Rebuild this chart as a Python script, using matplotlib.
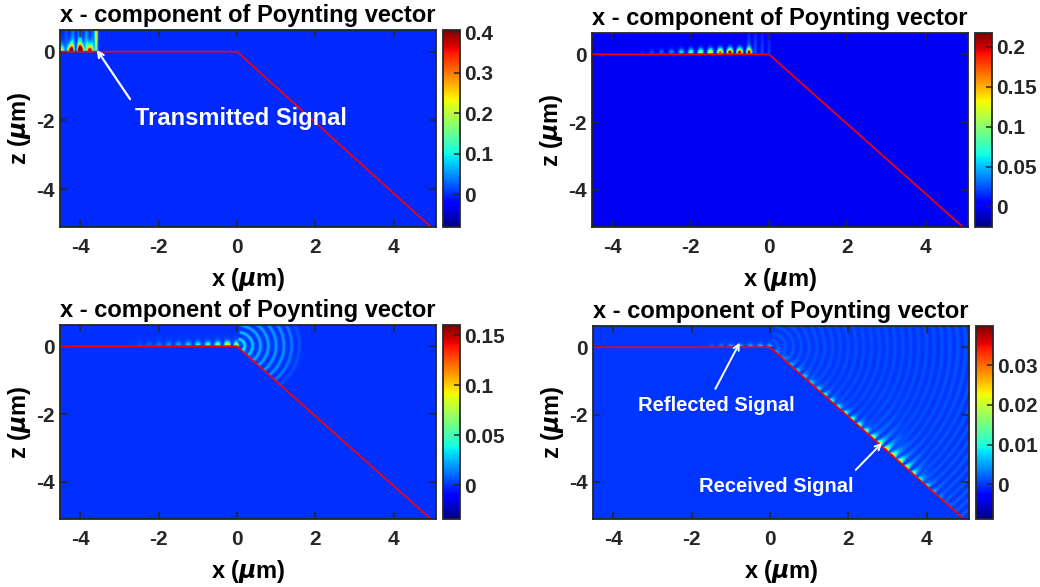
import numpy as np
import matplotlib.pyplot as plt

plt.rcParams['font.family'] = ['Liberation Sans', 'DejaVu Sans']
plt.rcParams['font.weight'] = 'bold'
plt.rcParams['axes.labelweight'] = 'bold'
plt.rcParams['axes.titleweight'] = 'bold'
plt.rcParams['axes.unicode_minus'] = False

# axes limits (um)
x_lim = [-4.52, 5.08]
z_lim = [-5.1, 0.63]

# waveguide profile (red line)
profile_x = [-4.52, 0.0, 5.0]
profile_z = [0.0, 0.0, -5.15]
slope = 1.03

# colour limits and colorbar ticks for the four snapshots
clims = [(-0.08, 0.405), (-0.025, 0.217), (-0.034, 0.16), (-0.0087, 0.0398)]
cticks = [[0, 0.1, 0.2, 0.3, 0.4],
          [0, 0.05, 0.1, 0.15, 0.2],
          [0, 0.05, 0.1, 0.15],
          [0, 0.01, 0.02, 0.03]]

# surface wave on the flat part: envelope anchors (x, amplitude)
flat_x = [[-4.6, -4.35, -4.15, -3.9, -3.7, -3.6],
          [-3.6, -2.5, -1.5, -1.0, -0.5, -0.35],
          [-2.8, -1.5, -0.6, -0.15, -0.02, 0.05],
          [-1.8, -1.2, -0.5, -0.05, 0.05, 0.1]]
flat_amp = [[0.1, 0.3, 0.6, 0.6, 0.3, 0.0],
            [0.0, 0.04, 0.14, 0.24, 0.22, 0.0],
            [0.0, 0.025, 0.06, 0.11, 0.09, 0.0],
            [0.0, 0.004, 0.006, 0.008, 0.004, 0.0]]
flat_height = [0.07, 0.05, 0.04, 0.03]

# radiation leaking upward from the flat part (vertical stripes)
plume_x = [[-4.45, -4.2, -3.9, -3.7, -3.6],
           [-0.7, -0.5, -0.2, 0.05, 0.15],
           [-0.6, -0.4, -0.2, 0.0, 0.1],
           [-0.2, -0.1, 0.0, 0.05, 0.1]]
plume_amp = [[0.02, 0.1, 0.14, 0.1, 0.0],
             [0.0, 0.03, 0.025, 0.02, 0.0],
             [0.0, 0.0, 0.0, 0.0, 0.0],
             [0.0, 0.0, 0.0, 0.0, 0.0]]
plume_decay = [0.6, 1.2, 1.0, 1.0]

# leading front of the transmitted pulse (panel 1)
front_x = -3.6
front_amp = 0.28

# cylindrical waves scattered at the corner: anchors (radius, amplitude)
ring_r = [[0.0, 1.0],
          [0.0, 1.0],
          [0.0, 0.2, 0.6, 1.2, 1.5, 1.7],
          [0.0, 0.5, 2.0, 4.0, 6.0, 7.5]]
ring_amp = [[0.0, 0.0],
            [0.0, 0.0],
            [0.06, 0.035, 0.025, 0.02, 0.012, 0.0],
            [0.0016, 0.0016, 0.0013, 0.0013, 0.0018, 0.0022]]

# surface wave along the slope: anchors (x, amplitude)
slope_x = [[0.0, 1.0], [0.0, 1.0],
           [0.0, 0.2, 0.5, 0.8],
           [0.1, 1.0, 2.0, 2.8, 3.1, 3.6, 4.2, 4.8]]
slope_amp = [[0.0, 0.0], [0.0, 0.0],
             [0.02, 0.015, 0.008, 0.0],
             [0.005, 0.012, 0.02, 0.034, 0.032, 0.018, 0.006, 0.0]]

period = 0.25


def build_field(i, X, Z):
    surf = np.interp(X, profile_x, profile_z)
    above = Z >= surf - 0.01
    field = np.zeros_like(X)

    # flat surface dots, peaking just above the interface
    h = np.clip(Z, 0, None)
    d = flat_height[i]
    env = np.interp(X, flat_x[i], flat_amp[i], left=0, right=0)
    prof = (h / d + 0.3) / 1.3 * np.exp(1 - h / d)
    dots = env * np.cos(np.pi * X / period) ** 2 * np.clip(prof, 0, 1.2)
    field += np.where((X < 0.05) & (Z >= -0.01), dots, 0)

    # upward leaking stripes
    env = np.interp(X, plume_x[i], plume_amp[i], left=0, right=0)
    field += np.where(Z >= 0, env * np.cos(np.pi * X / (0.7 * period)) ** 2
                      * np.exp(-h / plume_decay[i]), 0)

    if i == 0:
        field += np.where(Z >= 0, front_amp * np.exp(-((X - front_x) / 0.035) ** 2)
                          * (0.6 + 0.4 * h / z_lim[1]), 0)

    # rings from the corner
    R = np.hypot(X, Z)
    theta = np.degrees(np.arctan2(Z, X))
    env = np.interp(R, ring_r[i], ring_amp[i], right=0)
    ang = np.clip((85 - theta) / 10, 0, 1)
    field += np.where(above & (X > 0), env * ang * np.cos(np.pi * R / (0.8 * period)) ** 4, 0)

    # slope surface wave
    norm = np.sqrt(1 + slope ** 2)
    s = (X - slope * Z) / norm
    n = np.clip((Z + slope * X) / norm, 0, None)
    env = np.interp(X, slope_x[i], slope_amp[i], left=0, right=0)
    wave = np.cos(np.pi * s / period) ** 2
    far = np.interp(X, [2.6, 3.3, 4.0, 4.7], [0, 0.35, 0.35, 0]) if i == 3 else 0
    field += np.where(above & (X > 0), env * wave * (np.exp(-n / 0.07) + far * np.exp(-n / 0.3)), 0)

    return np.where(above, field, 0)


xg = np.linspace(x_lim[0], x_lim[1], 1000)
zg = np.linspace(z_lim[0], z_lim[1], 600)
X, Z = np.meshgrid(xg, zg)

fig = plt.figure(figsize=(10.4, 5.87), dpi=100)

ax_pos = [[0.0577, 0.6133, 0.3615, 0.3356],
          [0.5692, 0.6133, 0.3615, 0.3305],
          [0.0577, 0.1158, 0.3615, 0.3305],
          [0.5702, 0.1158, 0.3615, 0.3288]]
cb_left = [0.426, 0.9375, 0.426, 0.9385]

edge = '#262626'
for i in range(4):
    ax = fig.add_axes(ax_pos[i])
    f = build_field(i, X, Z)
    im = ax.imshow(f, extent=[x_lim[0], x_lim[1], z_lim[0], z_lim[1]], origin='lower',
                   aspect='auto', cmap='jet', vmin=clims[i][0], vmax=clims[i][1],
                   interpolation='bilinear')
    ax.plot(profile_x, profile_z, color='red', lw=1.2)
    ax.set_xlim(x_lim)
    ax.set_ylim(z_lim)
    ax.set_xticks([-4, -2, 0, 2, 4])
    ax.set_yticks([-4, -2, 0])
    ax.tick_params(direction='in', length=5, width=1.1, top=True, right=True,
                   labelsize=15, colors=edge)
    ax.tick_params(axis='x', pad=8)
    ax.tick_params(axis='y', pad=4)
    for sp in ax.spines.values():
        sp.set_color(edge)
        sp.set_linewidth(1.3)
    ax.set_xlabel(r'x ($\mu$m)', fontsize=17)
    ax.set_ylabel(r'z ($\mu$m)', fontsize=17)
    ax.xaxis.set_label_coords(0.5, -0.2)
    ax.yaxis.set_label_coords(-0.072, 0.5)
    ax.set_title('x - component of Poynting vector', fontsize=17, pad=6)

    p = ax_pos[i]
    cax = fig.add_axes([cb_left[i], p[1], 0.01635, p[3]])
    cb = fig.colorbar(im, cax=cax, ticks=cticks[i])
    cb.ax.tick_params(direction='in', length=4, width=1.1, labelsize=15, colors=edge, pad=3)
    cb.ax.set_yticklabels([f'{t:g}' for t in cticks[i]])
    cb.outline.set_edgecolor(edge)
    cb.outline.set_linewidth(1.3)

    if i == 0:
        ax.annotate('', xy=(-3.62, 0.12), xytext=(-2.69, -1.45),
                    arrowprops=dict(arrowstyle='->', color='white', lw=1.6))
        ax.text(-2.6, -1.93, 'Transmitted Signal', color='white', fontsize=17,
                ha='left', va='center')
    if i == 3:
        ax.annotate('', xy=(-0.74, 0.21), xytext=(-1.43, -1.31),
                    arrowprops=dict(arrowstyle='->', color='white', lw=1.4))
        ax.text(-1.38, -1.73, 'Reflected Signal', color='white', fontsize=14.5,
                ha='center', va='center')
        ax.annotate('', xy=(2.91, -2.78), xytext=(2.14, -3.7),
                    arrowprops=dict(arrowstyle='->', color='white', lw=1.4))
        ax.text(0.15, -4.12, 'Received Signal', color='white', fontsize=14.5,
                ha='center', va='center')

fig.savefig('out.png', dpi=100)
